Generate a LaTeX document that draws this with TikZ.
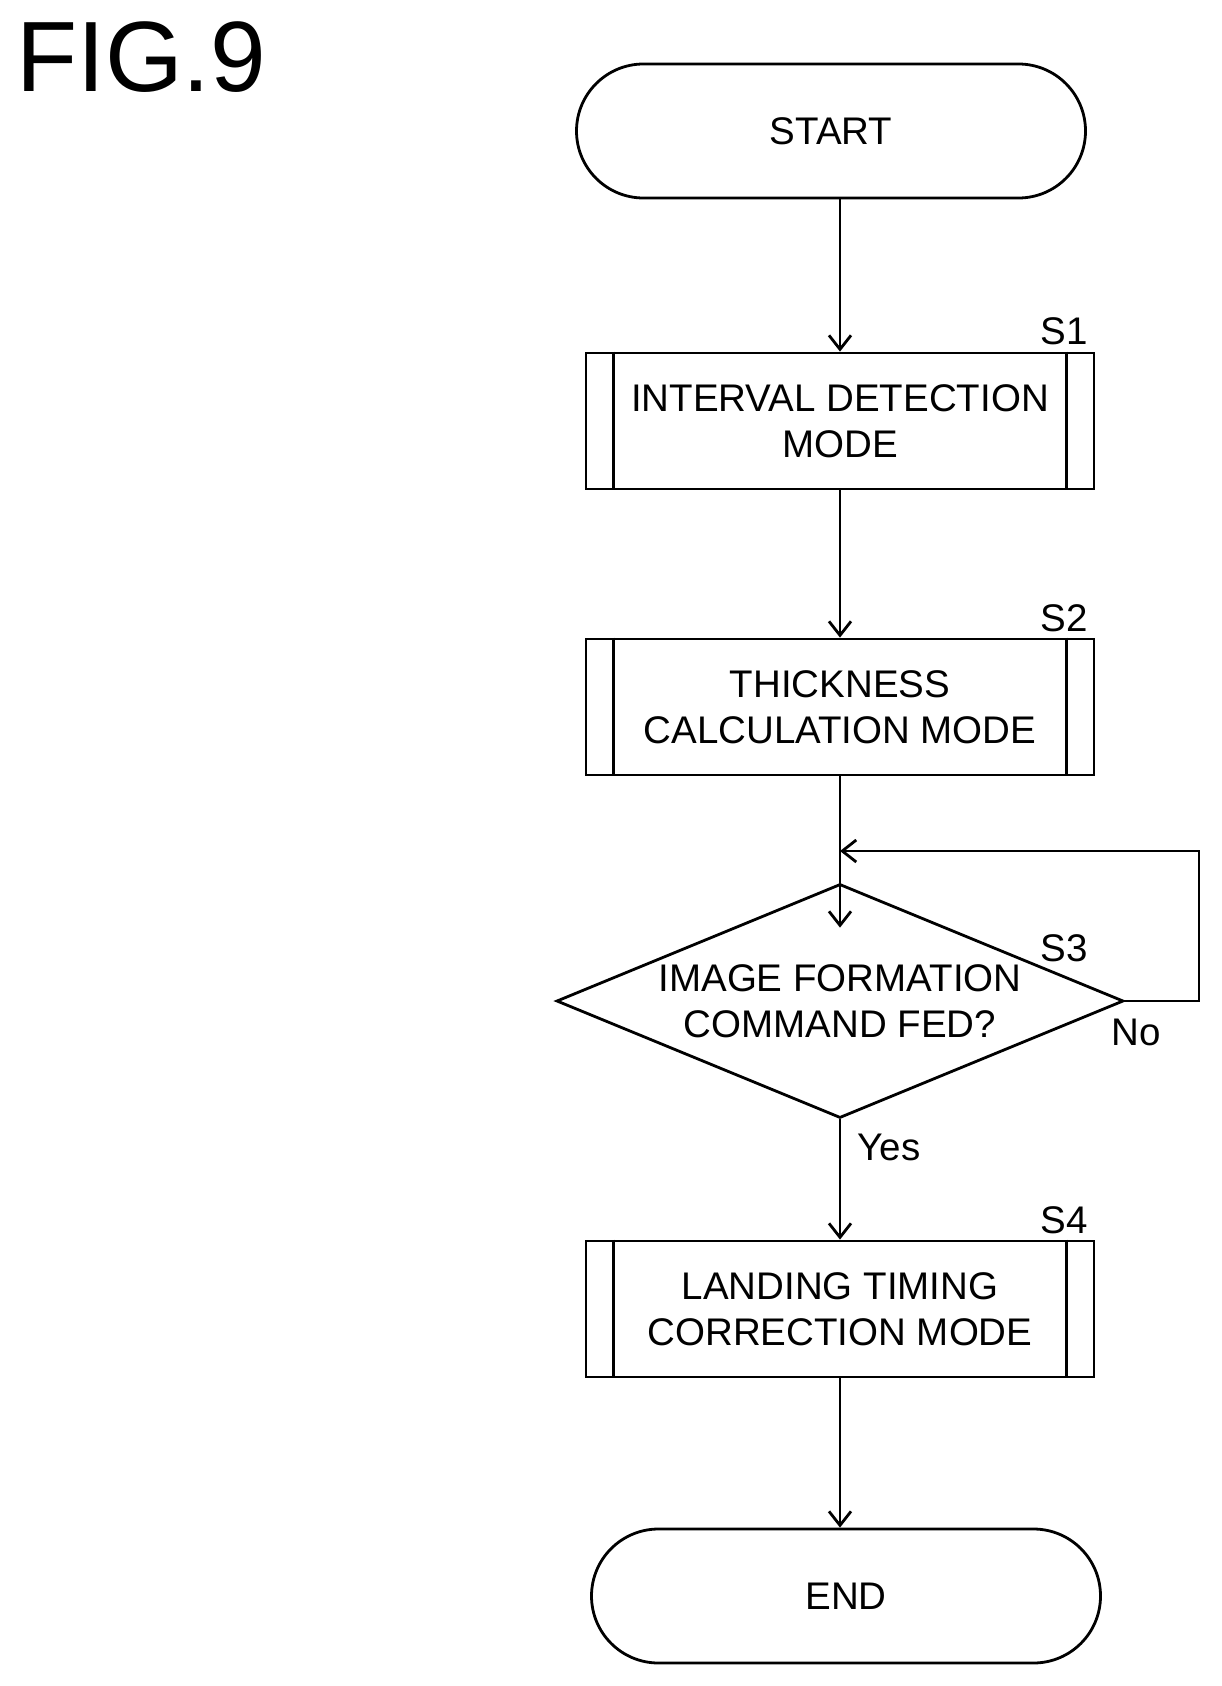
\documentclass[tikz,border=0pt]{standalone}
\usepackage{fontspec}
\setmainfont{Liberation Sans}
\usetikzlibrary{shapes.geometric, arrows.meta, positioning}

\begin{document}
\begin{tikzpicture}[
  x=1pt, y=-1pt,
  >={Straight Barb[length=14pt,width=22pt]},
  every node/.style={font=\fontsize{38.5}{46}\selectfont, align=center},
  terminal/.style={draw, line width=2.8pt, rounded corners=67pt, minimum width=509pt, minimum height=134pt},
  process/.style={draw, line width=2.8pt, minimum width=508pt, minimum height=136pt, inner sep=0pt},
  decision/.style={draw, line width=2.8pt, diamond, aspect=2.42, minimum width=567pt, minimum height=234pt, inner sep=0pt},
  flow/.style={->, line width=2.8pt},
  steplabel/.style={anchor=center}
]
\useasboundingbox (0,0) rectangle (1222,1686);

% Title
\node[font=\fontsize{100}{100}\selectfont, anchor=north west, inner sep=0pt] (fig) at (16,21) {FIG.9};

% Flow nodes
\node[terminal] (start) at (831,131) {START};
\node[process] (S1) at (840,421) {INTERVAL DETECTION\\MODE};
\node[process] (S2) at (840,707) {THICKNESS\\CALCULATION MODE};
\node[decision] (S3) at (840,1001) {IMAGE FORMATION\\COMMAND FED?};
\node[process] (S4) at (840,1309) {LANDING TIMING\\CORRECTION MODE};
\node[terminal] (end) at (846,1596) {END};

% Double side lines of the process boxes
\foreach \n in {S1,S2,S4} {
  \draw[line width=2.8pt] ([xshift=29pt]\n.north west) -- ([xshift=29pt]\n.south west);
  \draw[line width=2.8pt] ([xshift=-29pt]\n.north east) -- ([xshift=-29pt]\n.south east);
}

% Step labels
\node[steplabel] (l1) at (1064,331) {S1};
\node[steplabel] (l2) at (1064,618) {S2};
\node[steplabel] (l3) at (1064,948) {S3};
\node[steplabel] (l4) at (1064,1220) {S4};
\node[steplabel] (no) at (1136,1032) {No};
\node[steplabel] (yes) at (889,1147) {Yes};

% Arrows
\coordinate (loopR) at (1199,1001);
\coordinate (loopT) at (1199,851);
\coordinate (join) at (840,851);
\draw[flow] (start.south -| S1.north) -- (S1);
\draw[flow] (S1) -- (S2);
\draw[line width=2.8pt] (S2) -- (join);
\draw[flow] (join) -- ([yshift=-45pt]S3.north);
\draw[flow] (S3.east) -- (loopR) -- (loopT) -- (join);
\draw[flow] (S3) -- (S4);
\draw[flow] (S4) -- (end.north -| S4.south);
\end{tikzpicture}
\end{document}
